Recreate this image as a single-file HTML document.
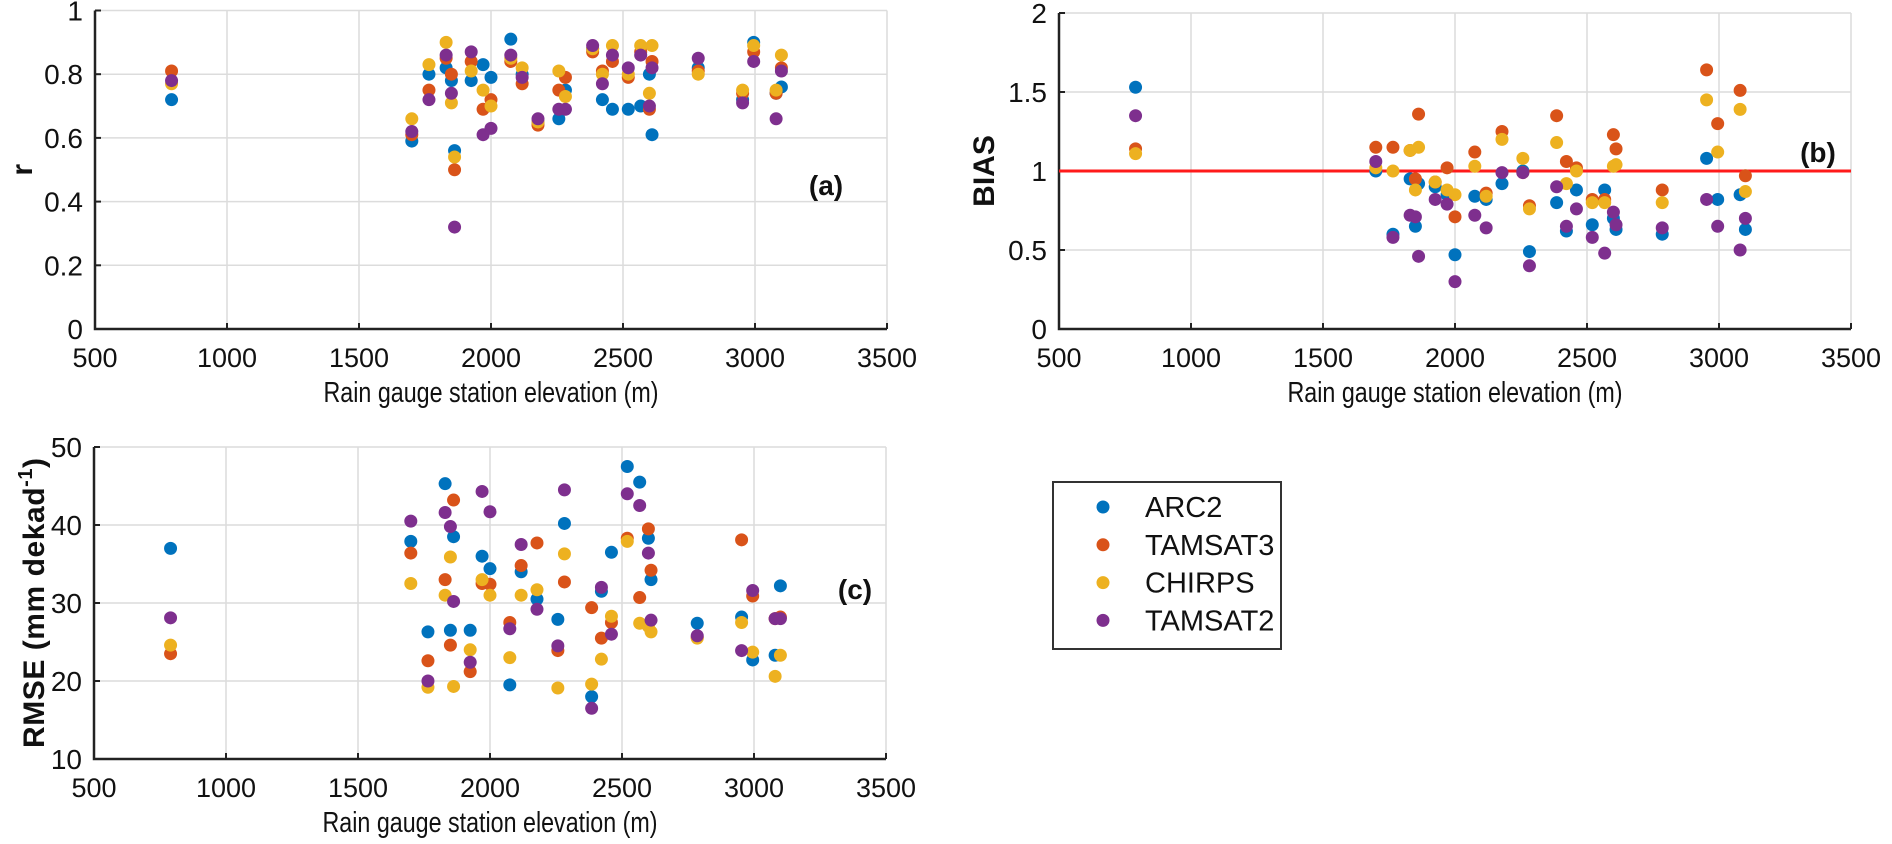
<!DOCTYPE html>
<html><head><meta charset="utf-8">
<style>
html,body{margin:0;padding:0;background:#fff;}
svg{display:block;}
text{font-family:"Liberation Sans",Arial,sans-serif;fill:#111;}
</style></head>
<body>
<svg id="chart" width="1892" height="844" viewBox="0 0 1892 844" xmlns="http://www.w3.org/2000/svg"></svg>
<script>
const elev = [790,1700,1765,1830,1850,1862,1925,1970,2000,2075,2118,2178,2257,2282,2385,2422,2460,2520,2567,2600,2610,2785,2953,2995,3080,3100];
const seriesNames = ["ARC2","TAMSAT3","CHIRPS","TAMSAT2"];
const seriesColors = ["#0072BD","#D95319","#EDB120","#7E2F8E"];
// r values
const rArc2    = [0.72,0.59,0.80,0.82,0.78,0.56,0.78,0.83,0.79,0.91,0.80,0.65,0.66,0.75,0.88,0.72,0.69,0.69,0.70,0.80,0.61,0.82,0.72,0.90,0.74,0.76];
const rTamsat3 = [0.81,0.61,0.75,0.85,0.80,0.50,0.84,0.69,0.72,0.84,0.77,0.64,0.75,0.79,0.87,0.81,0.84,0.79,0.87,0.69,0.84,0.81,0.74,0.87,0.74,0.82];
const rChirps  = [0.77,0.66,0.83,0.90,0.71,0.54,0.81,0.75,0.70,0.85,0.82,0.65,0.81,0.73,0.88,0.80,0.89,0.80,0.89,0.74,0.89,0.80,0.75,0.89,0.75,0.86];
const rTamsat2 = [0.78,0.62,0.72,0.86,0.74,0.32,0.87,0.61,0.63,0.86,0.79,0.66,0.69,0.69,0.89,0.77,0.86,0.82,0.86,0.70,0.82,0.85,0.71,0.84,0.66,0.81];
// BIAS values
const bArc2    = [1.53,1.00,0.60,0.95,0.65,0.92,0.90,0.85,0.47,0.84,0.82,0.92,1.00,0.49,0.80,0.62,0.88,0.66,0.88,0.70,0.63,0.60,1.08,0.82,0.85,0.63];
const bTamsat3 = [1.14,1.15,1.15,1.13,0.95,1.36,0.93,1.02,0.71,1.12,0.86,1.25,0.99,0.78,1.35,1.06,1.02,0.82,0.82,1.23,1.14,0.88,1.64,1.30,1.51,0.97];
const bChirps  = [1.11,1.02,1.00,1.13,0.88,1.15,0.93,0.88,0.85,1.03,0.84,1.20,1.08,0.76,1.18,0.92,1.00,0.80,0.80,1.03,1.04,0.80,1.45,1.12,1.39,0.87];
const bTamsat2 = [1.35,1.06,0.58,0.72,0.71,0.46,0.82,0.79,0.30,0.72,0.64,0.99,0.99,0.40,0.90,0.65,0.76,0.58,0.48,0.74,0.66,0.64,0.82,0.65,0.50,0.70];
// RMSE values
const eArc2    = [37.0,37.9,26.3,45.3,26.5,38.5,26.5,36.0,34.4,19.5,34.0,30.5,27.9,40.2,18.0,31.5,36.5,47.5,45.5,38.3,33.0,27.4,28.2,22.7,23.3,32.2];
const eTamsat3 = [23.5,36.4,22.6,33.0,24.6,43.2,21.2,32.5,32.4,27.5,34.8,37.7,23.9,32.7,29.4,25.5,27.5,38.3,30.7,39.5,34.2,25.6,38.1,30.9,28.0,28.2];
const eChirps  = [24.6,32.5,19.2,31.0,35.9,19.3,24.0,33.0,31.0,23.0,31.0,31.7,19.1,36.3,19.6,22.8,28.3,37.9,27.4,27.0,26.3,25.5,27.5,23.7,20.6,23.3];
const eTamsat2 = [28.1,40.5,20.0,41.6,39.8,30.2,22.4,44.3,41.7,26.7,37.5,29.2,24.5,44.5,16.5,32.0,26.0,44.0,42.5,36.4,27.8,25.8,23.9,31.6,28.0,28.0];
const rTicks = [0,0.2,0.4,0.6,0.8,1];
const bTicks = [0,0.5,1,1.5,2];
const eTicks = [10,20,30,40,50];
const xTicks = [500,1000,1500,2000,2500,3000,3500];

const NS="http://www.w3.org/2000/svg";
const svg=document.getElementById('chart');
function mk(tag,attrs,parent,txt){const e=document.createElementNS(NS,tag);for(const k in attrs)e.setAttribute(k,attrs[k]);if(txt!==undefined)e.textContent=txt;(parent||svg).appendChild(e);return e;}

function panel(id,x0,x1,yTop,yBot,ymin,ymax,yTicks,ylabel,series,letter,lx,ly,ylabX,ylabLen){
  const g=mk('g',{});
  
  
  const sx=v=>x0+(v-500)/3000*(x1-x0);
  const sy=v=>yBot-(v-ymin)/(ymax-ymin)*(yBot-yTop);
  xTicks.forEach(t=>{
    const l=mk('line',{x1:sx(t),x2:sx(t),y1:yTop,y2:yBot,stroke:'#dcdcdc','stroke-width':1.5},g);
    
    
    mk('line',{x1:sx(t),x2:sx(t),y1:yBot,y2:yBot-6,stroke:'#222','stroke-width':2},g);
    const tx=mk('text',{x:sx(t),y:yBot+38,'font-size':27,'text-anchor':'middle'},g,String(t));
    
    
  });
  yTicks.forEach(t=>{
    const l=mk('line',{x1:x0,x2:x1,y1:sy(t),y2:sy(t),stroke:'#dcdcdc','stroke-width':1.5},g);
    
    
    mk('line',{x1:x0,x2:x0+6,y1:sy(t),y2:sy(t),stroke:'#222','stroke-width':2},g);
    const tx=mk('text',{x:x0-12,y:sy(t)+10,'font-size':28,'text-anchor':'end'},g,String(t));
    
    
  });
  const ax=mk('path',{d:`M${x0},${yTop} L${x0},${yBot} L${x1},${yBot}`,fill:'none',stroke:'#222','stroke-width':2.5},g);
  
  
  if(id==='b'){
    const rl=mk('line',{x1:sx(500),x2:sx(3500),y1:sy(1),y2:sy(1),stroke:'#ff1a1a','stroke-width':3},g);
    
    
  }
  series.forEach((vals,si)=>{
    vals.forEach((v,i)=>{
      const c=mk('circle',{cx:sx(elev[i]),cy:sy(v),r:6.5,fill:seriesColors[si]},g);
      
      
    });
  });
  const xt=mk('text',{x:(x0+x1)/2,y:yBot+73,'font-size':29,'text-anchor':'middle',textLength:335,lengthAdjust:'spacingAndGlyphs'},g,'Rain gauge station elevation (m)');
  
  
  const yc=(yTop+yBot)/2;
  const yt=mk('text',{x:ylabX,y:yc,'font-size':30,'font-weight':'bold','text-anchor':'middle',transform:`rotate(-90 ${ylabX} ${yc})`},g);
  if(ylabLen) yt.setAttribute('textLength',ylabLen);
  
  
  if(ylabel==='RMSE'){
    yt.appendChild(document.createTextNode('RMSE (mm dekad'));
    const s=mk('tspan',{dy:-12,'font-size':20},yt,'-1');
    mk('tspan',{dy:12},yt,')');
  } else yt.textContent=ylabel;
  const an=mk('text',{x:lx,y:ly,'font-size':28,'font-weight':'bold','text-anchor':'middle'},g,letter);
  
  
}

panel('a',95,887,10.5,329,0,1,rTicks,'r',[rArc2,rTamsat3,rChirps,rTamsat2],'(a)',826,195,32,null);
panel('b',1059,1851,13,329,0,2,bTicks,'BIAS',[bArc2,bTamsat3,bChirps,bTamsat2],'(b)',1818,162,994,null);
panel('c',94,886,447,759,10,50,eTicks,'RMSE',[eArc2,eTamsat3,eChirps,eTamsat2],'(c)',855,599,44,290);

// legend
const lg=mk('g',{});


const box=mk('rect',{x:1053,y:482,width:228,height:167,fill:'#fff',stroke:'#333','stroke-width':2},lg);


seriesNames.forEach((n,i)=>{
  const y=507+i*37.8;
  const m=mk('circle',{cx:1103,cy:y,r:6.5,fill:seriesColors[i]},lg);
  
  
  const t=mk('text',{x:1145,y:y+10,'font-size':29},lg,n);
  
  
});
</script>
</body></html>
